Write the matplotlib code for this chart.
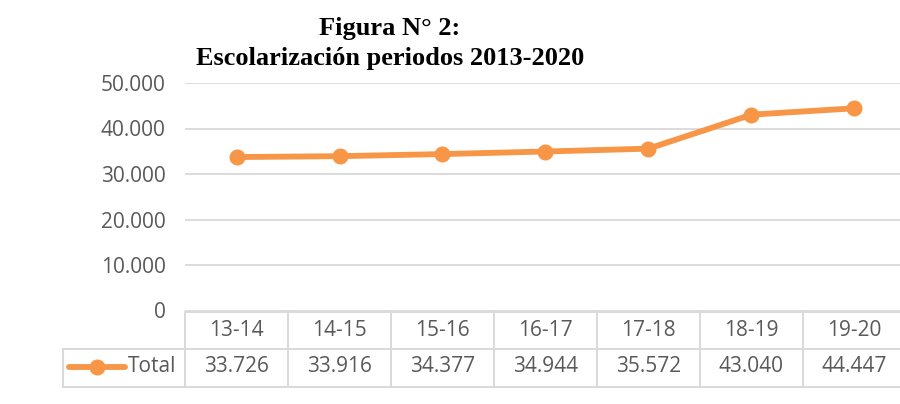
import matplotlib
matplotlib.use("Agg")
import matplotlib.pyplot as plt
from matplotlib.lines import Line2D
from matplotlib.transforms import blended_transform_factory

periodos = ["13-14", "14-15", "15-16", "16-17", "17-18", "18-19", "19-20"]
total = [33726, 33916, 34377, 34944, 35572, 43040, 44447]
yticks = [0, 10000, 20000, 30000, 40000, 50000]
serie = "Total"

NARANJA = "#F79646"
GRIS_TXT = "#595959"
GRIS_LINEA = "#D9D9D9"
W, H = 900, 404


def fx(px):
    return px / W


def fy(py):
    return 1 - py / H


def miles(v):
    return f"{v:,.0f}".replace(",", ".")


fig = plt.figure(figsize=(9, 4.04), dpi=100)
ax = fig.add_axes([fx(185), fy(310.5), fx(721), 227.5 / H])

x = list(range(len(periodos)))
ax.plot(x, total, color=NARANJA, lw=4.2, marker="o", ms=10.5,
        solid_capstyle="round", zorder=3, clip_on=False)

ax.set_xlim(-0.5, len(periodos) - 0.5)
ax.set_ylim(0, 50000)
ax.set_yticks(yticks)
ax.set_yticklabels([miles(v) for v in yticks], fontsize=15,
                   family="Open Sans", color=GRIS_TXT)
ax.set_xticks([])
ax.tick_params(axis="y", length=0, pad=14)
ax.grid(axis="y", color=GRIS_LINEA, lw=1.3)
ax.set_axisbelow(True)
for s in ax.spines.values():
    s.set_visible(False)

# titulo
fig.text(fx(390), fy(29), "Figura N° 2:", ha="center", va="center",
         family="Liberation Serif", weight="bold", fontsize=19)
fig.text(fx(390), fy(59), "Escolarización periodos 2013-2020", ha="center",
         va="center", family="Liberation Serif", weight="bold", fontsize=19)

# tabla de datos bajo el eje
tr = blended_transform_factory(ax.transData, fig.transFigure)
y_top, y_mid, y_bot = fy(312), fy(349), fy(387)
x_left = -0.5 - (185 - 63) / 103
x_right = len(periodos) - 0.5
lkw = dict(color=GRIS_LINEA, lw=1.4, transform=tr, clip_on=False)
fig.add_artist(Line2D([-0.5, x_right], [y_top, y_top], **lkw))
fig.add_artist(Line2D([x_left, x_right], [y_mid, y_mid], **lkw))
fig.add_artist(Line2D([x_left, x_right], [y_bot, y_bot], **lkw))
fig.add_artist(Line2D([x_left, x_left], [y_mid, y_bot], **lkw))
for i in range(len(periodos) + 1):
    fig.add_artist(Line2D([i - 0.5, i - 0.5], [y_top, y_bot], **lkw))

for i, (p, v) in enumerate(zip(periodos, total)):
    fig.text(i, fy(330), p, transform=tr, ha="center", va="center",
             fontsize=15, family="Open Sans", color=GRIS_TXT)
    fig.text(i, fy(367), miles(v), transform=tr, ha="center", va="center",
             fontsize=15, family="Open Sans", color=GRIS_TXT)

# clave de leyenda
fig.add_artist(Line2D([fx(69), fx(125)], [fy(367), fy(367)], color=NARANJA,
                      lw=4.2, solid_capstyle="round"))
fig.add_artist(Line2D([fx(97)], [fy(367)], color=NARANJA, marker="o", ms=10.5))
fig.text(fx(128), fy(367), serie, ha="left", va="center", fontsize=15,
         family="Open Sans", color=GRIS_TXT)

fig.savefig("out.png", dpi=100, facecolor="white")
